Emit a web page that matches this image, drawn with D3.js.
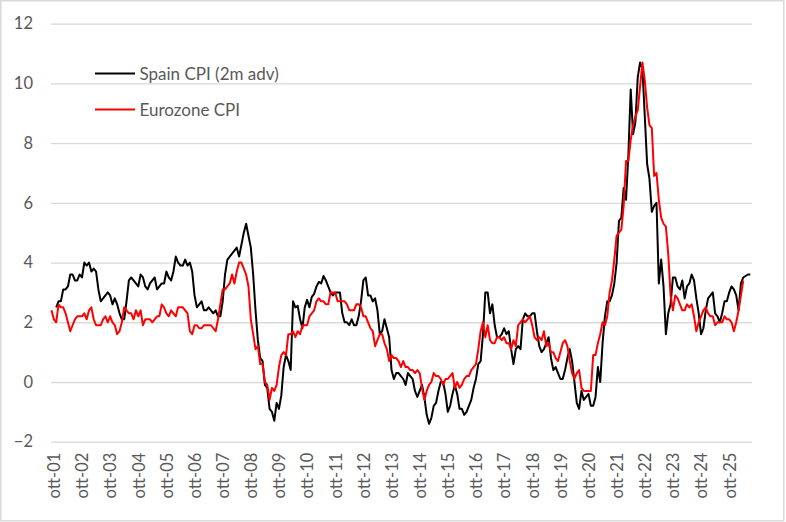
<!DOCTYPE html>
<html><head><meta charset="utf-8">
<script src="https://cdn.jsdelivr.net/npm/d3@7"></script>
<style>body{margin:0;background:#fff}svg{display:block}</style>
</head><body><svg id="chart" width="786" height="522"></svg>
<script>
// ---- data (monthly, first month = October 2001) ----
const firstYear = 2001, firstMonth = 9; // October
const nCategories = 299;
const xTickLabels = ["ott-01","ott-02","ott-03","ott-04","ott-05","ott-06","ott-07","ott-08","ott-09","ott-10","ott-11","ott-12","ott-13","ott-14","ott-15","ott-16","ott-17","ott-18","ott-19","ott-20","ott-21","ott-22","ott-23","ott-24","ott-25"];
const yTicks = [-2,0,2,4,6,8,10,12];
const seriesNames = ["Spain CPI (2m adv)","Eurozone CPI"];
const spainLeadMonths = 2;

const eurozoneCPI = [
 2.4,2.1,2.0,
 2.6,2.5,2.5,2.3,2.0,1.7,1.9,2.1,2.2,2.2,2.2,2.3,
 2.1,2.4,2.5,2.1,1.9,1.9,1.9,2.1,2.2,2.0,2.2,2.0,
 1.9,1.6,1.7,2.0,2.5,2.4,2.3,2.3,2.1,2.4,2.2,2.4,
 1.9,2.1,2.1,2.1,2.0,2.1,2.2,2.2,2.6,2.5,2.3,2.2,
 2.4,2.3,2.2,2.5,2.5,2.5,2.4,2.3,1.7,1.6,1.9,1.9,
 1.8,1.8,1.9,1.9,1.9,1.9,1.8,1.7,2.1,2.6,3.1,3.1,
 3.2,3.3,3.6,3.3,3.7,4.0,4.0,3.8,3.6,3.2,2.1,1.6,
 1.1,1.2,0.6,0.6,0.0,-0.1,-0.6,-0.2,-0.3,-0.1,0.5,0.9,
 1.0,0.9,1.6,1.6,1.7,1.5,1.7,1.6,1.9,1.9,1.9,2.2,
 2.3,2.4,2.7,2.8,2.7,2.7,2.6,2.6,3.0,3.0,3.0,2.7,
 2.7,2.7,2.7,2.6,2.4,2.4,2.4,2.6,2.6,2.5,2.2,2.2,
 2.0,1.8,1.7,1.2,1.4,1.6,1.6,1.3,1.1,0.7,0.9,0.8,
 0.8,0.7,0.5,0.7,0.5,0.5,0.4,0.4,0.3,0.4,0.3,-0.2,
 -0.6,-0.3,-0.1,0.0,0.3,0.2,0.2,0.1,-0.1,0.1,0.1,0.2,
 0.3,-0.2,0.0,-0.2,-0.1,0.1,0.2,0.2,0.4,0.5,0.6,1.1,
 1.7,2.0,1.5,1.9,1.4,1.3,1.3,1.5,1.5,1.4,1.5,1.3,
 1.3,1.1,1.4,1.2,1.9,2.0,2.1,2.0,2.1,2.2,1.9,1.5,
 1.4,1.5,1.4,1.7,1.2,1.3,1.0,1.0,0.8,0.7,1.0,1.3,
 1.4,1.2,0.7,0.3,0.1,0.3,0.4,-0.2,-0.3,-0.3,-0.3,-0.3,
 0.9,0.9,1.3,1.6,2.0,1.9,2.2,3.0,3.4,4.1,4.9,5.0,
 5.1,5.9,7.4,7.4,8.1,8.6,8.9,9.1,9.9,10.7,10.1,9.2,
 8.6,8.5,6.9,7.0,6.1,5.5,5.3,5.2,4.3,2.9,2.4,2.9,
 2.8,2.6,2.4,2.4,2.6,2.5,2.6,2.2,1.7,2.0,2.2,2.4,
 2.5,2.3,2.2,2.2,1.9,2.0,2.0,2.0,2.2,2.1,2.1,2.0,
 1.7,2.0,2.4,2.9,3.4
];

const spainCPI = [
 2.5,2.7,2.7,
 3.1,3.1,3.2,3.6,3.6,3.4,3.4,3.6,3.5,4.0,3.9,4.0,
 3.7,3.8,3.7,3.1,2.7,2.8,2.9,3.0,2.9,2.6,2.8,2.6,
 2.3,2.1,2.1,2.7,3.4,3.5,3.4,3.3,3.2,3.6,3.5,3.2,
 3.1,3.3,3.4,3.5,3.1,3.2,3.3,3.3,3.7,3.5,3.4,3.7,
 4.2,4.0,3.9,3.9,4.1,3.9,4.0,3.7,2.9,2.5,2.6,2.7,
 2.4,2.4,2.5,2.4,2.3,2.4,2.2,2.2,2.7,3.6,4.1,4.2,
 4.3,4.4,4.5,4.2,4.6,5.0,5.3,4.9,4.5,3.6,2.4,1.4,
 0.8,0.7,-0.1,-0.2,-0.9,-1.0,-1.3,-0.7,-0.9,-0.45,0.5,0.9,
 0.7,0.4,2.7,2.5,2.55,2.1,1.8,2.5,2.75,2.5,2.85,2.95,
 3.2,3.35,3.3,3.55,3.4,3.2,3.0,2.9,3.0,3.0,3.0,2.3,
 2.0,2.0,1.9,2.1,1.9,1.9,2.2,2.7,3.4,3.5,2.9,2.9,
 2.7,2.8,2.4,1.6,1.7,2.1,1.8,1.5,0.4,0.1,0.3,0.3,
 0.2,0.1,-0.1,0.3,0.2,0.1,-0.3,-0.5,-0.3,-0.1,-0.5,-1.1,
 -1.4,-1.2,-0.8,-0.7,-0.3,0.0,0.0,-0.4,-1.0,-0.8,-0.4,-0.1,
 -0.4,-0.9,-0.9,-1.1,-1.0,-0.8,-0.6,-0.2,0.1,0.6,0.7,1.6,
 3.0,3.0,2.3,2.6,1.9,1.5,1.5,1.6,1.8,1.6,1.7,1.1,
 0.6,1.1,1.2,1.1,2.1,2.3,2.2,2.2,2.3,2.3,1.7,1.2,
 1.0,1.1,1.3,1.5,0.8,0.4,0.5,0.3,0.1,0.1,0.4,0.8,
 1.1,0.7,0.0,-0.7,-0.9,-0.3,-0.6,-0.5,-0.4,-0.8,-0.8,-0.5,
 0.5,0.0,1.3,2.2,2.7,2.7,2.9,3.3,4.0,5.4,5.5,6.5,
 6.1,7.6,9.8,8.3,8.7,10.2,10.7,10.5,8.9,7.3,6.8,5.7,
 5.9,6.0,3.3,4.1,3.2,1.6,2.3,2.6,3.5,3.5,3.2,3.1,
 3.4,2.8,3.2,3.3,3.6,3.4,2.8,2.3,1.6,1.8,2.4,2.8,
 2.9,3.0,2.3,2.2,2.0,2.3,2.7,2.7,3.0,3.2,3.1,2.9,
 2.4,3.3,3.5,3.55,3.6,3.6
];

// ---- chart ----
const W = 786, H = 522;
const plot = {left: 51, right: 752, top: 23.7, bottom: 441.7};
const svg = d3.select("#chart");
const font = "Lato, 'Open Sans', sans-serif";
const textColor = "#595959";

svg.append("rect").attr("x",0.75).attr("y",0.75).attr("width",W-3).attr("height",H-2)
  .attr("fill","#fff").attr("stroke","#d9d9d9").attr("stroke-width",1.5);

const x = d3.scaleLinear().domain([0, nCategories-1]).range([plot.left+0.5, plot.right-1.7]);
const y = d3.scaleLinear().domain([-2, 12]).range([plot.bottom, plot.top]);

// gridlines + y labels
const yAxis = d3.axisLeft(y).tickValues(yTicks).tickSize(-(plot.right-plot.left)).tickPadding(18).tickFormat(d3.format("d"));
const gy = svg.append("g").attr("transform",`translate(${plot.left},0)`).call(yAxis);
gy.select(".domain").remove();
gy.selectAll(".tick line").attr("stroke","#d9d9d9").attr("stroke-width",1.3);
gy.selectAll(".tick text").attr("fill",textColor).style("font-family",font).style("font-size","16.5px");

// x labels: every 12th category, rotated
const tickIdx = xTickLabels.map((_,k)=>k*12);
const xAxis = d3.axisBottom(x).tickValues(tickIdx).tickSize(0).tickPadding(0)
  .tickFormat((d,k)=>xTickLabels[k]);
const gx = svg.append("g").attr("transform",`translate(0,${plot.bottom})`).call(xAxis);
gx.select(".domain").remove();
gx.selectAll(".tick text")
  .attr("fill",textColor).style("font-family",font).style("font-size","16.5px")
  .attr("text-anchor","end").attr("dy",null).attr("y",0)
  .attr("transform","translate(2.2,11) rotate(-90)")
  .attr("dominant-baseline","central");

// series
const spainPts = spainCPI.map((v,k)=>[k+spainLeadMonths, v]).filter(p=>p[0] < nCategories);
const euroPts = eurozoneCPI.map((v,k)=>[k, v]);
const line = d3.line().x(d=>x(d[0])).y(d=>y(d[1]));
svg.append("path").datum(spainPts).attr("d",line).attr("fill","none")
  .attr("stroke","#000").attr("stroke-width",2).attr("stroke-linejoin","round");
svg.append("path").datum(euroPts).attr("d",line).attr("fill","none")
  .attr("stroke","#ff0000").attr("stroke-width",2).attr("stroke-linejoin","round");

// legend
const legend = [
  {name: seriesNames[0], color:"#000", y:73.5},
  {name: seriesNames[1], color:"#ff0000", y:109.5}
];
const lg = svg.append("g");
legend.forEach(l=>{
  lg.append("line").attr("x1",95).attr("x2",135).attr("y1",l.y).attr("y2",l.y)
    .attr("stroke",l.color).attr("stroke-width",2);
  lg.append("text").attr("x",139.5).attr("y",l.y).attr("dominant-baseline","central")
    .attr("fill",textColor).style("font-family",font).style("font-size","17px").text(l.name);
});
</script>
</body></html>
